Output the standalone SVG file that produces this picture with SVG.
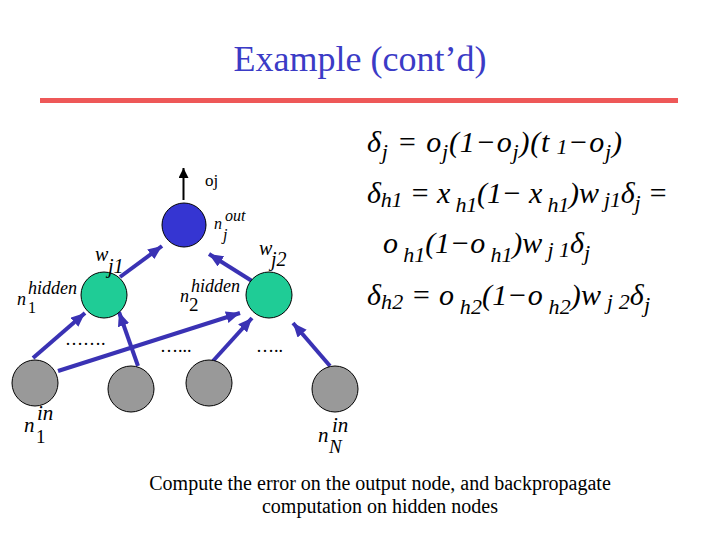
<svg xmlns="http://www.w3.org/2000/svg" width="720" height="540" viewBox="0 0 720 540">
<style>
.title{font-family:"Liberation Serif",serif;font-size:36px;fill:#3b3bc6}
.lbl{font-family:"Liberation Serif",serif;font-style:italic;fill:#000}
.eq{font-family:"Liberation Serif",serif;font-style:italic;font-size:30px;fill:#000}
.sb{font-size:22px}
.cap{font-family:"Liberation Serif",serif;font-size:20px;fill:#000}
.con{stroke:#3a32b4;stroke-width:4;fill:none}
.gray{fill:#999999;stroke:#000;stroke-width:1}
.hid{fill:#1fcc96;stroke:#000;stroke-width:1}
.out{fill:#3535d2;stroke:#000;stroke-width:1}
</style>
<defs>
<marker id="ah" markerUnits="userSpaceOnUse" markerWidth="14" markerHeight="12" refX="14" refY="6" orient="auto">
<path d="M0,0 L14,6 L0,12 z" fill="#3a32b4"/>
</marker>
<marker id="ak" markerUnits="userSpaceOnUse" markerWidth="10" markerHeight="10" refX="10" refY="5" orient="auto">
<path d="M0,0 L10,5 L0,10 z" fill="#000"/>
</marker>
</defs>
<rect width="720" height="540" fill="#fff"/>
<text class="title" x="360" y="71" text-anchor="middle">Example (cont’d)</text>
<rect x="40" y="98" width="638" height="5" fill="#ee5858"/>

<g id="connectors">
<line class="con" x1="33" y1="358" x2="85" y2="313" marker-end="url(#ah)"/>
<line class="con" x1="138" y1="366" x2="119" y2="312" marker-end="url(#ah)"/>
<line class="con" x1="58" y1="371" x2="240" y2="313" marker-end="url(#ah)"/>
<line class="con" x1="213" y1="361" x2="252" y2="318" marker-end="url(#ah)"/>
<line class="con" x1="330" y1="366" x2="293" y2="323" marker-end="url(#ah)"/>
<line class="con" x1="120" y1="277" x2="162" y2="246" marker-end="url(#ah)"/>
<line class="con" x1="252" y1="281" x2="209" y2="254" marker-end="url(#ah)"/>
<line x1="183.5" y1="200" x2="183.5" y2="168" stroke="#000" stroke-width="2" marker-end="url(#ak)"/>
</g>

<g id="out">
<circle class="out" cx="184" cy="225" r="22"/>
<text class="lbl" x="214" y="229" font-size="16">n<tspan x="225" y="221">out</tspan><tspan x="223" y="240">j</tspan></text>
<text x="205" y="186" font-family="Liberation Serif,serif" font-size="17">oj</text>
</g>
<g id="h1">
<circle class="hid" cx="104" cy="295" r="23"/>
<text class="lbl" x="17" y="305" font-size="18">n<tspan x="28" y="294">hidden</tspan><tspan x="28" y="313" font-style="normal" font-size="16">1</tspan></text>
<text class="lbl" x="95" y="261" font-size="20">w<tspan x="108" y="273">j1</tspan></text>
</g>
<g id="h2">
<circle class="hid" cx="269" cy="295" r="23"/>
<text class="lbl" x="180" y="302" font-size="18">n<tspan x="191" y="292">hidden</tspan><tspan x="189" y="311" font-size="19" font-style="normal">2</tspan></text>
<text class="lbl" x="259" y="255" font-size="20">w<tspan x="271" y="266">j2</tspan></text>
</g>
<g id="in1">
<circle class="gray" cx="35" cy="383" r="23"/>
<text class="lbl" x="24" y="432" font-size="21">n<tspan x="37" y="420">in</tspan><tspan x="36" y="443" font-style="normal" font-size="19">1</tspan></text>
</g>
<g id="in2"><circle class="gray" cx="131" cy="389" r="23"/></g>
<g id="in3"><circle class="gray" cx="209" cy="383" r="23"/></g>
<g id="inN">
<circle class="gray" cx="335" cy="389" r="23"/>
<text class="lbl" x="318" y="442" font-size="21">n<tspan x="332" y="432">in</tspan><tspan x="329" y="453" font-size="19">N</tspan></text>
</g>
<g id="dots" font-family="Liberation Serif,serif" font-size="18">
<text x="65" y="345">…….</text>
<text x="160" y="352">…...</text>
<text x="256" y="352">…..</text>
</g>

<g id="equations">
<text class="eq" x="367" y="152" textLength="255" lengthAdjust="spacing">δ<tspan class="sb" dy="7">j</tspan><tspan dy="-7"> = o</tspan><tspan class="sb" dy="7">j</tspan><tspan dy="-7">(1−o</tspan><tspan class="sb" dy="7">j</tspan><tspan dy="-7">)(t</tspan><tspan class="sb" dy="2"> 1</tspan><tspan dy="-2">−o</tspan><tspan class="sb" dy="7">j</tspan><tspan dy="-7">)</tspan></text>
<text class="eq" x="367" y="203" textLength="301" lengthAdjust="spacing">δ<tspan class="sb" dy="4">h1</tspan><tspan dy="-4"> = x</tspan><tspan class="sb" dy="9"> h1</tspan><tspan dy="-9">(1− x</tspan><tspan class="sb" dy="9"> h1</tspan><tspan dy="-9">)w</tspan><tspan class="sb" dy="4"> j1</tspan><tspan dy="-4">δ</tspan><tspan class="sb" dy="7">j</tspan><tspan dy="-7"> =</tspan></text>
<text class="eq" x="383" y="253" textLength="207" lengthAdjust="spacing">o<tspan class="sb" dy="9"> h1</tspan><tspan dy="-9">(1−o</tspan><tspan class="sb" dy="9"> h1</tspan><tspan dy="-9">)w</tspan><tspan class="sb" dy="4"> j 1</tspan><tspan dy="-4">δ</tspan><tspan class="sb" dy="7">j</tspan></text>
<text class="eq" x="367" y="305" textLength="283" lengthAdjust="spacing">δ<tspan class="sb" dy="4">h2</tspan><tspan dy="-4"> = o</tspan><tspan class="sb" dy="9"> h2</tspan><tspan dy="-9">(1−o</tspan><tspan class="sb" dy="9"> h2</tspan><tspan dy="-9">)w</tspan><tspan class="sb" dy="4"> j 2</tspan><tspan dy="-4">δ</tspan><tspan class="sb" dy="7">j</tspan></text>
</g>

<text class="cap" x="380" y="490" text-anchor="middle">Compute the error on the output node, and backpropagate</text>
<text class="cap" x="380" y="513" text-anchor="middle">computation on hidden nodes</text>
</svg>
